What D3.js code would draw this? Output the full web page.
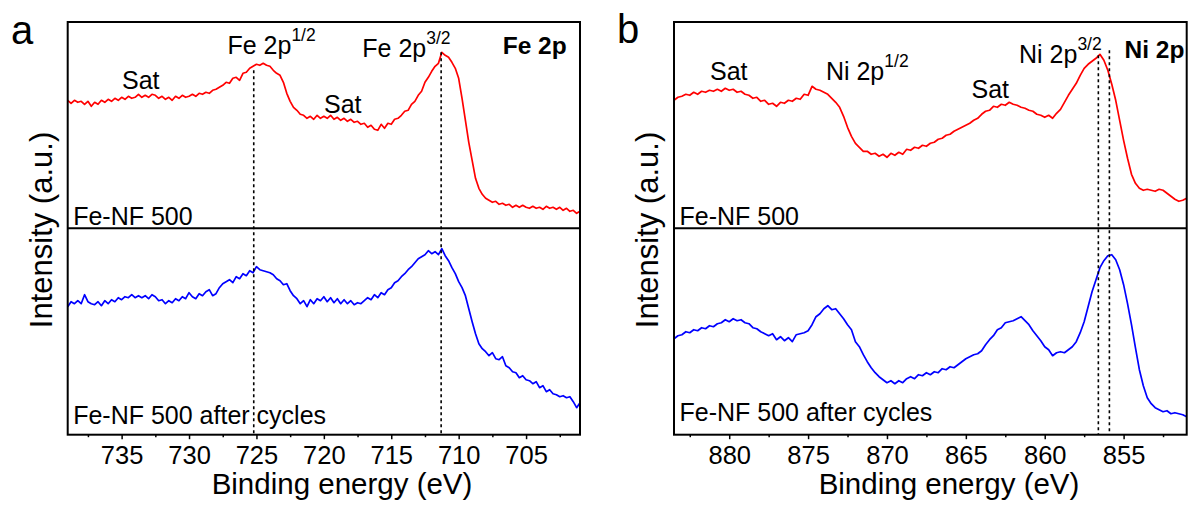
<!DOCTYPE html>
<html>
<head>
<meta charset="utf-8">
<script src="https://cdn.jsdelivr.net/npm/d3@7"></script>
<style>
  body { margin: 0; background: #fff; }
  svg text { font-family: "Liberation Sans", Arial, Helvetica, sans-serif; fill: #000; }
</style>
</head>
<body>
<svg id="chart" width="1192" height="512"></svg>
<script>
// ---------- Fe 2p spectra (binding energy in eV, intensity in a.u.) ----------
const feEnergy = [
  739,738.75,738.5,738.25, 738,737.75,737.5,737.25, 737,736.75,736.5,736.25, 736,735.75,735.5,735.25,
  735,734.75,734.5,734.25, 734,733.75,733.5,733.25, 733,732.75,732.5,732.25, 732,731.75,731.5,731.25,
  731,730.75,730.5,730.25, 730,729.75,729.5,729.25, 729,728.75,728.5,728.25, 728,727.75,727.5,727.25,
  727,726.75,726.5,726.25, 726,725.75,725.5,725.25, 725,724.75,724.5,724.25, 724,723.75,723.5,723.25,
  723,722.75,722.5,722.25, 722,721.75,721.5,721.25, 721,720.75,720.5,720.25, 720,719.75,719.5,719.25,
  719,718.75,718.5,718.25, 718,717.75,717.5,717.25, 717,716.75,716.5,716.25, 716,715.75,715.5,715.25,
  715,714.75,714.5,714.25, 714,713.75,713.5,713.25, 713,712.75,712.5,712.25, 712,711.75,711.5,711.25,
  711,710.75,710.5,710.25, 710,709.75,709.5,709.25, 709,708.75,708.5,708.25, 708,707.75,707.5,707.25,
  707,706.75,706.5,706.25, 706,705.75,705.5,705.25, 705,704.75,704.5,704.25, 704,703.75,703.5,703.25,
  703,702.75,702.5,702.25, 702,701.75,701.5,701.25, 701
];
const feFresh = [
  128,125,128,126, 127,124,127,122, 126,124,128,126, 129,127,130,128,
  131,129,132,130, 131,134,131,133, 131,134,133,130, 132,129,131,128,
  132,130,133,131, 132,134,132,135, 134,136,135,138, 139,141,143,146,
  145,150,151,148, 155,156,160,162, 164,163,165,163, 162,158,155,153,
  146,135,127,121, 118,114,113,110, 112,109,113,110, 112,110,113,109,
  111,108,110,107, 109,106,107,104, 105,101,103,99, 98,104,100,105,
  104,109,110,113, 117,118,124,127, 133,137,146,151, 157,162,165,176,
  173,171,166,160, 150,130,108,86, 68,50,40,34, 30,28,26,27,
  24,25,23,24, 21,23,21,23, 21,20,22,20, 21,19,22,20,
  21,19,21,18, 20,17,18,15, 17
];
const feCycled = [
  128,133,131,134, 131,140,133,131, 130,133,129,134, 131,135,133,137,
  135,138,137,140, 137,139,137,139, 136,140,138,134, 135,131,134,132,
  136,134,138,136, 142,138,136,141, 139,143,145,139, 141,147,151,153,
  155,152,158,156, 161,159,164,162, 168,165,164,163, 162,160,156,154,
  150,151,144,139, 136,131,134,128, 135,131,136,134, 138,133,137,132,
  136,131,135,131, 134,130,132,131, 134,137,135,140, 137,142,140,145,
  147,152,154,158, 161,165,168,172, 176,178,180,184, 181,183,180,186,
  179,174,167,161, 153,147,139,126, 113,101,91,86, 83,79,82,76,
  75,78,69,67, 63,62,57,59, 55,54,51,53, 47,49,43,45,
  41,40,38,39, 37,38,33,27, 32
];

// ---------- Ni 2p spectra ----------
const niEnergy = [
  883.5,883.25,
  883,882.75,882.5,882.25, 882,881.75,881.5,881.25, 881,880.75,880.5,880.25, 880,879.75,879.5,879.25,
  879,878.75,878.5,878.25, 878,877.75,877.5,877.25, 877,876.75,876.5,876.25, 876,875.75,875.5,875.25,
  875,874.75,874.5,874.25, 874,873.75,873.5,873.25, 873,872.75,872.5,872.25, 872,871.75,871.5,871.25,
  871,870.75,870.5,870.25, 870,869.75,869.5,869.25, 869,868.75,868.5,868.25, 868,867.75,867.5,867.25,
  867,866.75,866.5,866.25, 866,865.75,865.5,865.25, 865,864.75,864.5,864.25, 864,863.75,863.5,863.25,
  863,862.75,862.5,862.25, 862,861.75,861.5,861.25, 861,860.75,860.5,860.25, 860,859.75,859.5,859.25,
  859,858.75,858.5,858.25, 858,857.75,857.5,857.25, 857,856.75,856.5,856.25, 856,855.75,855.5,855.25,
  855,854.75,854.5,854.25, 854,853.75,853.5,853.25, 853,852.75,852.5,852.25, 852,851.75,851.5,851.25,
  851
];
const niFresh = [
  128,131,
  132,134,133,136, 134,137,136,138, 137,139,137,140, 138,139,136,137,
  134,133,130,131, 127,128,124,125, 122,126,125,128, 127,130,129,134,
  133,142,139,138, 136,134,130,126, 121,112,101,92, 85,81,77,77,
  74,75,72,74, 71,75,73,76, 74,79,78,81, 80,83,82,85,
  86,89,90,93, 94,97,99,101, 103,105,108,110, 114,117,118,122,
  121,124,123,126, 124,123,121,120, 118,117,114,113, 111,113,110,115,
  119,126,133,139, 145,153,160,164, 167,170,174,168, 158,144,128,108,
  88,70,54,45, 40,38,39,38, 37,39,38,35, 32,29,27,28,
  30
];
const niCycled = [
  96,99,
  100,103,102,105, 104,107,106,109, 108,111,112,115, 113,116,114,115,
  112,111,107,106, 103,101,99,101, 95,98,94,97, 93,100,101,102,
  104,110,118,121, 126,129,125,126, 121,116,110,105, 93,88,80,73,
  67,62,58,55, 52,54,51,54, 52,56,58,56, 60,59,62,60,
  63,62,66,65, 68,67,70,73, 76,78,80,81, 84,90,95,99,
  105,107,112,113, 114,116,118,114, 110,104,99,94, 88,85,79,82,
  83,82,85,88, 93,102,113,128, 143,155,167,174, 179,180,175,165,
  150,131,110,87, 65,49,37,31, 27,25,23,24, 21,22,21,20,
  18
];

// ---------- axis ticks ----------
const feTicks = [735, 730, 725, 720, 715, 710, 705];
const feMinorTicks = [737.5, 732.5, 727.5, 722.5, 717.5, 712.5, 707.5, 702.5];
const niTicks = [880, 875, 870, 865, 860, 855];
const niMinorTicks = [882.5, 877.5, 872.5, 867.5, 862.5, 857.5, 852.5];

// ---------- peak markers: energy and top of the dotted guide (a.u.) ----------
const fePeakEnergy = [725.2, 711.3];
const fePeakTop = [158, 176];
const niPeakEnergy = [856.6, 855.9];
const niPeakTop = [173, 178];

// ---------- annotations ----------
const feNotes = [
  { text: "Sat", e: 734.97, v: 139 },
  { text: "Fe 2p", sup: "1/2", e: 727.15, v: 174 },
  { text: "Sat", e: 719.99, v: 115 },
  { text: "Fe 2p", sup: "3/2", e: 717.15, v: 171 }
];
const niNotes = [
  { text: "Sat", e: 881.22, v: 148.3 },
  { text: "Ni 2p", sup: "1/2", e: 873.87, v: 148.3 },
  { text: "Sat", e: 864.64, v: 130 },
  { text: "Ni 2p", sup: "3/2", e: 861.63, v: 165.6 }
];

// ---------- layout ----------
const svg = d3.select("#chart");
const frameTop = 22, frameMid = 228.3, frameBottom = 434.7;
const labelSize = 25;

const panels = [
  {
    letter: "a", letterX: 11, letterY: 44,
    left: 67.7, right: 580, domain: [739, 701],
    energy: feEnergy, fresh: feFresh, cycled: feCycled,
    ticks: feTicks, minor: feMinorTicks,
    peakE: fePeakEnergy, peakTop: fePeakTop,
    notes: feNotes, element: "Fe 2p", elementEnd: 566.7, elementY: 54.3,
    cycledLabelY: 424, titleX: 342, yTitleX: 52
  },
  {
    letter: "b", letterX: 617, letterY: 43,
    left: 674, right: 1186.7, domain: [883.5, 851],
    energy: niEnergy, fresh: niFresh, cycled: niCycled,
    ticks: niTicks, minor: niMinorTicks,
    peakE: niPeakEnergy, peakTop: niPeakTop,
    notes: niNotes, element: "Ni 2p", elementEnd: 1184.4, elementY: 58.3,
    cycledLabelY: 421, titleX: 949, yTitleX: 658
  }
];

const yUpper = d3.scaleLinear().domain([0, 206.3]).range([frameMid, frameTop]);
const yLower = d3.scaleLinear().domain([0, 206.4]).range([frameBottom, frameMid]);

panels.forEach(p => {
  const x = d3.scaleLinear().domain(p.domain).range([p.left, p.right]);
  const g = svg.append("g");

  const upperPts = p.energy.map((e, i) => ({ e, v: p.fresh[i] }));
  const lowerPts = p.energy.map((e, i) => ({ e, v: p.cycled[i] }));

  // spectra
  g.append("path")
    .datum(upperPts)
    .attr("fill", "none")
    .attr("stroke", "#ff0000")
    .attr("stroke-width", 1.7)
    .attr("stroke-linejoin", "round")
    .attr("d", d3.line().x(d => x(d.e)).y(d => yUpper(d.v)));

  g.append("path")
    .datum(lowerPts)
    .attr("fill", "none")
    .attr("stroke", "#0000ff")
    .attr("stroke-width", 1.7)
    .attr("stroke-linejoin", "round")
    .attr("d", d3.line().x(d => x(d.e)).y(d => yLower(d.v)));

  // dotted peak guides
  p.peakE.forEach((e, i) => {
    g.append("line")
      .attr("x1", x(e)).attr("x2", x(e))
      .attr("y1", yUpper(p.peakTop[i])).attr("y2", frameBottom)
      .attr("stroke", "#000")
      .attr("stroke-width", 1.6)
      .attr("stroke-dasharray", "3,3");
  });

  // frame and divider
  g.append("rect")
    .attr("x", p.left).attr("y", frameTop)
    .attr("width", p.right - p.left).attr("height", frameBottom - frameTop)
    .attr("fill", "none").attr("stroke", "#000").attr("stroke-width", 2);
  g.append("line")
    .attr("x1", p.left).attr("x2", p.right)
    .attr("y1", frameMid).attr("y2", frameMid)
    .attr("stroke", "#000").attr("stroke-width", 2);

  // bottom axis: major and minor ticks
  const major = g.append("g")
    .attr("transform", `translate(0,${frameBottom})`)
    .call(d3.axisBottom(x).tickValues(p.ticks).tickSize(4.5).tickFormat(d3.format("d")));
  major.select(".domain").remove();
  major.selectAll(".tick line").attr("stroke-width", 1.5);
  major.selectAll(".tick text")
    .attr("dy", null).attr("y", 29.5)
    .style("font-size", "25.5px");

  const minor = g.append("g")
    .attr("transform", `translate(0,${frameBottom})`)
    .call(d3.axisBottom(x).tickValues(p.minor).tickSize(2.5).tickFormat(""));
  minor.select(".domain").remove();
  minor.selectAll(".tick line").attr("stroke-width", 1.5);

  // peak annotations
  p.notes.forEach(n => {
    const t = g.append("text")
      .attr("x", x(n.e)).attr("y", yUpper(n.v))
      .style("font-size", labelSize + "px")
      .text(n.text);
    if (n.sup) {
      t.append("tspan")
        .attr("dy", -13)
        .style("font-size", "17.5px")
        .text(n.sup);
    }
  });

  // element label
  g.append("text")
    .attr("x", p.elementEnd).attr("y", p.elementY)
    .attr("text-anchor", "end")
    .style("font-size", "24.5px").style("font-weight", "bold")
    .text(p.element);

  // sample labels
  g.append("text")
    .attr("x", p.left + 5.5).attr("y", 225)
    .style("font-size", labelSize + "px")
    .text("Fe-NF 500");
  g.append("text")
    .attr("x", p.left + 5.5).attr("y", p.cycledLabelY)
    .style("font-size", labelSize + "px")
    .text("Fe-NF 500 after cycles");

  // axis titles
  g.append("text")
    .attr("x", p.titleX).attr("y", 494)
    .attr("text-anchor", "middle")
    .style("font-size", "29.5px")
    .text("Binding energy (eV)");
  g.append("text")
    .attr("transform", `translate(${p.yTitleX},230) rotate(-90)`)
    .attr("text-anchor", "middle")
    .style("font-size", "31px")
    .text("Intensity (a.u.)");

  // panel letter
  g.append("text")
    .attr("x", p.letterX).attr("y", p.letterY)
    .style("font-size", "40px")
    .text(p.letter);
});
</script>
</body>
</html>
